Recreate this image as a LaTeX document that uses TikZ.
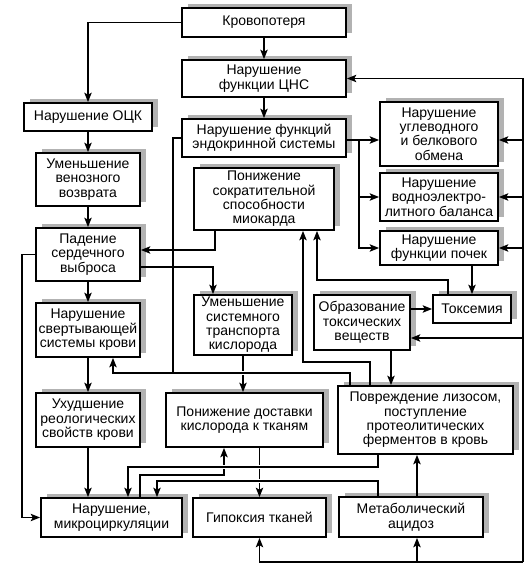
\documentclass[tikz,border=0pt]{standalone}
\usepackage{fontspec}
\setmainfont{Liberation Sans}
\usetikzlibrary{arrows.meta,shadows}

\begin{document}
\begin{tikzpicture}[x=0.75pt,y=-0.75pt,line width=1.1pt,
	box/.style={draw, fill=white, line width=1.4pt, align=center, inner sep=0pt, font=\fontsize{10.5}{10.8}\selectfont, drop shadow={shadow xshift=4.5pt, shadow yshift=3pt, fill=black!30, opacity=1}},
	arr/.style={-{Stealth[length=7pt,width=5.5pt,inset=1.5pt]}},
	over/.style={preaction={draw=white, line width=3.5pt, arrows=-, shorten >=3pt, shorten <=3pt}}]
	\useasboundingbox (0,0) rectangle (530,569);
	\node (krov)	at (264, 22.5)	[box, minimum width=123pt, minimum height=21.75pt]	{Кровопотеря};
	\node (cns)	at (264, 78.5)	[box, minimum width=123pt, minimum height=27.75pt]	{Нарушение\\функции ЦНС};
	\node (endo)	at (264, 138)	[box, minimum width=123pt, minimum height=28.5pt]	{Нарушение функций\\эндокринной системы};
	\node (miok)	at (264, 199)	[box, minimum width=105pt, minimum height=46.5pt]	{Понижение\\сократительной\\способности\\миокарда};
	\node (ock)	at (88, 117)	[box, minimum width=96pt, minimum height=21pt]	{Нарушение ОЦК};
	\node (ven)	at (88, 179.5)	[box, minimum width=78pt, minimum height=39.75pt]	{Уменьшение\\венозного\\возврата};
	\node (pad)	at (88, 254.5)	[box, minimum width=78pt, minimum height=39.75pt]	{Падение\\сердечного\\выброса};
	\node (svert)	at (88, 330)	[box, minimum width=78pt, minimum height=40.5pt]	{Нарушение\\свертывающей\\системы крови};
	\node (reol)	at (88, 420)	[box, minimum width=78pt, minimum height=40.5pt]	{Ухудшение\\реологических\\свойств крови};
	\node (micro)	at (111.5, 517.5)	[box, minimum width=105.75pt, minimum height=29.25pt]	{Нарушение,\\микроциркуляции};
	\node (trans)	at (243, 325)	[box, minimum width=73.5pt, minimum height=45pt]	{Уменьшение\\системного\\транспорта\\кислорода};
	\node (dost)	at (244.5, 420)	[box, minimum width=117.75pt, minimum height=40.5pt]	{Понижение доставки\\кислорода к тканям};
	\node (gip)	at (259.5, 517.5)	[box, minimum width=99.75pt, minimum height=29.25pt]	{Гипоксия тканей};
	\node (acid)	at (411, 517)	[box, minimum width=108pt, minimum height=30pt]	{Метаболический\\ацидоз};
	\node (liz)	at (425.5, 420)	[box, minimum width=131.25pt, minimum height=51pt]	{Повреждение лизосом,\\поступление\\протеолитических\\ферментов в кровь};
	\node (obr)	at (362, 322.5)	[box, minimum width=72pt, minimum height=41.25pt]	{Образование\\токсических\\веществ};
	\node (toks)	at (472, 309)	[box, minimum width=58.5pt, minimum height=21pt]	{Токсемия};
	\node (ugl)	at (439, 134)	[box, minimum width=88.5pt, minimum height=48pt]	{Нарушение\\углеводного\\и белкового\\обмена};
	\node (vod)	at (439, 197)	[box, minimum width=88.5pt, minimum height=36pt]	{Нарушение\\водноэлектро-\\литного баланса};
	\node (poch)	at (439, 248)	[box, minimum width=88.5pt, minimum height=25.5pt]	{Нарушение\\функции почек};
	\coordinate (eJ)	at (359, 140);
	\coordinate (rTop)	at (523, 78.5);
	\coordinate (rBot)	at (523, 562);
	\coordinate (bJ)	at (173, 373);
	\coordinate (tJ)	at (317, 280);
	\coordinate (lJ)	at (303, 362);
	\coordinate (dJ)	at (224, 467);
	\coordinate (mJ)	at (140, 475);
	\coordinate (aJ)	at (157, 481);
	\draw[arr] (krov.west) -| (ock.north);
	\draw[arr] (krov) -- (cns);
	\draw[arr] (cns) -- (endo);
	\draw[arr] (ock) -- (ven);
	\draw[arr] (ven) -- (pad);
	\draw[arr] (pad) -- (svert);
	\draw[arr] (svert) -- (reol);
	\draw[arr] (reol.south) -- (reol.south |- micro.north);
	\draw[arr] (pad.west) -- ++(-13,0) |- (micro.west);
	\draw[arr] (miok.south -| 215,0) |- (pad.east |- 0,250);
	\draw[arr] (pad.east |- 0,267) -| (trans.north -| 213,0);
	\draw[arr] (trans.south) -- (trans.south |- dost.north);
	\draw[arr] (dost.south -| gip.north) -- (gip.north);
	\draw[arr, over] (liz.north -| 350,0) |- (bJ) -| (svert.south -| 113,0);
	\draw (endo.west) -| (bJ);
	\draw[arr] (endo.east |- eJ) -- (ugl.west |- eJ);
	\draw[arr] (eJ) |- (vod.west);
	\draw[arr] (eJ) |- (poch.west);
	\draw[arr] (rBot) |- (cns.east);
	\draw[arr] (rTop |- eJ) -- (ugl.east |- eJ);
	\draw[arr] (rTop |- vod.east) -- (vod.east);
	\draw[arr] (rTop |- poch.east) -- (poch.east);
	\draw[arr] (rTop |- 0,338) -- (obr.east |- 0,338);
	\draw[arr] (rBot) -| (gip.south);
	\draw[arr] (rBot -| 417,0) -- (acid.south -| 417,0);
	\draw[arr] (poch.south -| toks.north) -- (toks.north);
	\draw[arr] (toks.north -| 448,0) |- (tJ) -- (miok.south -| tJ);
	\draw[arr] (obr.east |- toks.west) -- (toks.west);
	\draw[arr] (obr.south -| 391,0) -- (liz.north -| 391,0);
	\draw[arr] (liz.north -| 370,0) |- (lJ) -- (miok.south -| lJ);
	\draw[arr] (micro.north -| mJ) |- (mJ -| dJ) -- (dost.south -| dJ);
	\draw[arr, over] (liz.south -| 378,0) |- (dJ) -| (micro.north -| 128,0);
	\draw[arr, over] (acid.north -| 378,0) |- (aJ) -- (micro.north -| aJ);
	\draw[arr] (acid.north -| 417,0) -- (liz.south -| 417,0);
\end{tikzpicture}
\end{document}
